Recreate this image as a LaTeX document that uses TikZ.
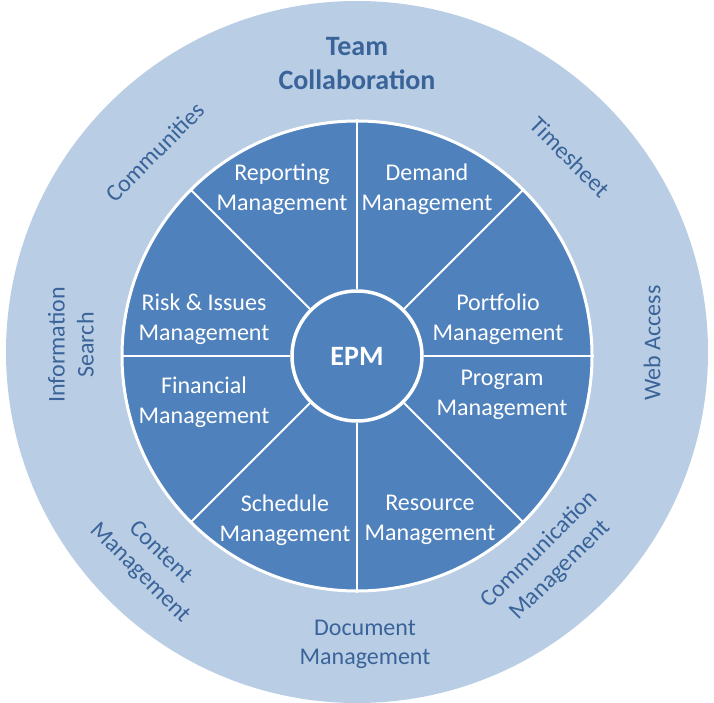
\documentclass[tikz,border=0pt]{standalone}
\usepackage{fontspec}
\setmainfont{Carlito}
\usetikzlibrary{positioning}
\definecolor{ringblue}{HTML}{B9CDE5}
\definecolor{discblue}{HTML}{4F81BD}
\definecolor{textblue}{HTML}{3A6499}

\begin{document}
\begin{tikzpicture}[
      x=1pt, y=1pt,
      ring/.style={circle, inner sep=0pt, fill=ringblue},
      disc/.style={circle, inner sep=0pt, fill=discblue, draw=white, line width=3pt},
      area/.style={font=\fontsize{24}{30}\selectfont, text=white, align=center},
      service/.style={font=\fontsize{24}{29}\selectfont, text=textblue, align=center},
      divider/.style={draw=white, line width=2pt}
    ]
    \useasboundingbox (0,0) rectangle (714,-703);

    % Rings
    \node[ring, minimum size=702pt] (outer) at (357,-352) {};
    \node[disc, minimum size=470pt] (inner) at (357,-356) {};
    \node[disc, minimum size=130pt, line width=3.5pt, text=white,
      font=\bfseries\fontsize{28}{34}\selectfont] (epm) at (357,-356) {EPM};
    \foreach \a in {0,45,...,315}
      \draw[divider] (epm.\a) -- (inner.\a);

    % Management areas
    \node[area] (reporting) at (282,-189) {Reporting\\Management};
    \node[area] (demand) at (427,-189) {Demand\\Management};
    \node[area] (portfolio) at (498,-319) {Portfolio\\Management};
    \node[area] (program) at (502,-395) {Program\\Management};
    \node[area] (resource) at (430,-520) {Resource\\Management};
    \node[area] (schedule) at (285,-520) {Schedule\\Management};
    \node[area] (financial) at (204,-402) {Financial\\Management};
    \node[area] (risk) at (204,-319) {Risk \& Issues\\Management};

    % Services around
    \node[service, font=\bfseries\fontsize{28}{34}\selectfont] (team) at (357,-64)
      {Team\\Collaboration};
    \node[service, rotate=45] (communities) at (155,-152) {Communities};
    \node[service, rotate=-45] (timesheet) at (570,-157) {Timesheet};
    \node[service, rotate=90] (information) at (71,-345) {Information\\Search};
    \node[service, rotate=90] (webaccess) at (652,-343) {Web Access};
    \node[service, rotate=-45] (content) at (150,-563) {Content\\Management};
    \node[service, rotate=45] (communication) at (550,-560) {Communication\\Management};
    \node[service] (document) at (365,-644) {Document\\Management};
  \end{tikzpicture}
\end{document}
